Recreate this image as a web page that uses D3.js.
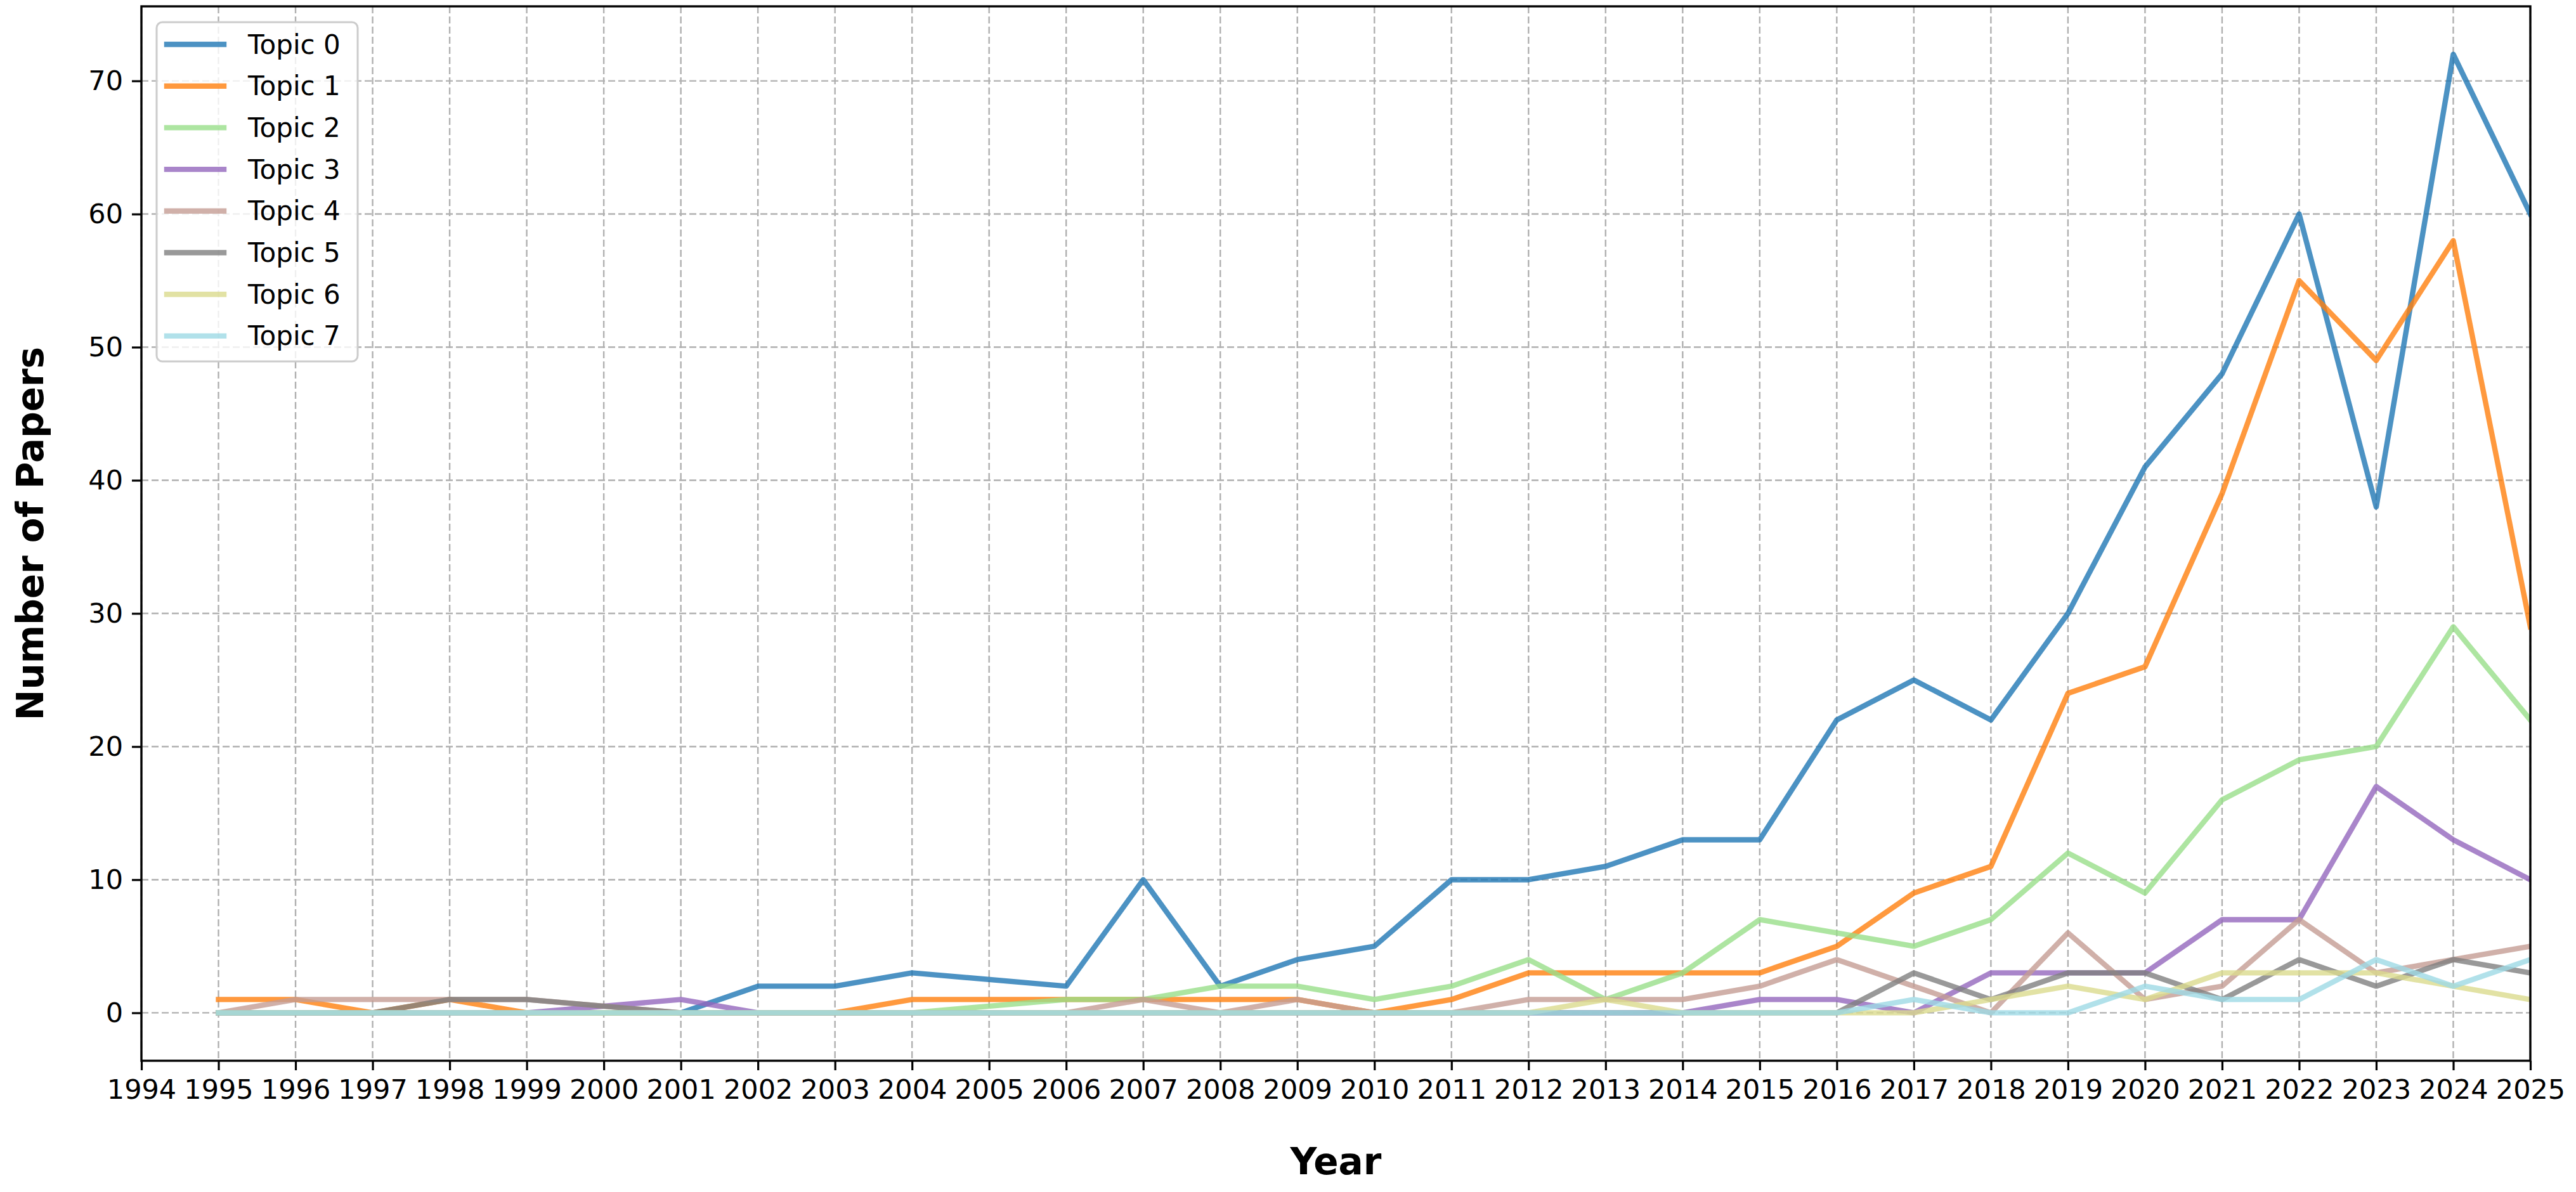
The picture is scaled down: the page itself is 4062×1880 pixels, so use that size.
<!DOCTYPE html>
<html>
<head>
<meta charset="utf-8">
<script src="https://cdn.jsdelivr.net/npm/d3@7/dist/d3.min.js"></script>
<style>
html,body{margin:0;padding:0;background:#fff;}
svg{display:block;font-family:"DejaVu Sans",sans-serif;}
</style>
</head>
<body>
<svg id="chart" width="4062" height="1880"></svg>
<script>
// ---- data (years with no papers, 2000 and 2005, are absent) ----
const years = [1995,1996,1997,1998,1999,2001,2002,2003,2004,2006,2007,2008,2009,2010,2011,2012,2013,2014,2015,2016,2017,2018,2019,2020,2021,2022,2023,2024,2025];
const topic0 = [0,0,0,0,0,0,2,2,3,2,10,2,4,5,10,10,11,13,13,22,25,22,30,41,48,60,38,72,60];
const topic1 = [1,1,0,1,0,0,0,0,1,1,1,1,1,0,1,3,3,3,3,5,9,11,24,26,39,55,49,58,29];
const topic2 = [0,0,0,0,0,0,0,0,0,1,1,2,2,1,2,4,1,3,7,6,5,7,12,9,16,19,20,29,22];
const topic3 = [0,0,0,0,0,1,0,0,0,0,0,0,0,0,0,0,0,0,1,1,0,3,3,3,7,7,17,13,10];
const topic4 = [0,1,1,1,1,0,0,0,0,0,1,0,1,0,0,1,1,1,2,4,2,0,6,1,2,7,3,4,5];
const topic5 = [0,0,0,1,1,0,0,0,0,0,0,0,0,0,0,0,0,0,0,0,3,1,3,3,1,4,2,4,3];
const topic6 = [0,0,0,0,0,0,0,0,0,0,0,0,0,0,0,0,1,0,0,0,0,1,2,1,3,3,3,2,1];
const topic7 = [0,0,0,0,0,0,0,0,0,0,0,0,0,0,0,0,0,0,0,0,1,0,0,2,1,1,4,2,4];
const seriesNames = ["Topic 0","Topic 1","Topic 2","Topic 3","Topic 4","Topic 5","Topic 6","Topic 7"];
const seriesValues = [topic0,topic1,topic2,topic3,topic4,topic5,topic6,topic7];
const seriesColors = ["#1f77b4","#ff7f0e","#98df8a","#9467bd","#c49c94","#7f7f7f","#dbdb8d","#9edae5"];
const xTicks = d3.range(1994, 2026);
const yTicks = [0,10,20,30,40,50,60,70];

// ---- layout ----
const L = 223, R = 3990, T = 10, B = 1673;
const svg = d3.select("#chart");
const x = d3.scaleLinear().domain([1994, 2025]).range([L, R]);
const y = d3.scaleLinear().domain([-3.6, 75.6]).range([B, T]);

svg.append("defs").append("clipPath").attr("id","clip")
  .append("rect").attr("x",L).attr("y",T).attr("width",R-L).attr("height",B-T);

// grid
const grid = svg.append("g");
grid.selectAll("line.v").data(xTicks).join("line")
  .attr("x1", d=>x(d)).attr("x2", d=>x(d)).attr("y1",T).attr("y2",B)
  .attr("stroke","#b0b0b0").attr("stroke-width",2.4).attr("stroke-dasharray","11,5");
grid.selectAll("line.h").data(yTicks).join("line")
  .attr("x1",L).attr("x2",R).attr("y1",d=>y(d)).attr("y2",d=>y(d))
  .attr("stroke","#b0b0b0").attr("stroke-width",2.4).attr("stroke-dasharray","11,5");

// lines
const line = d3.line().x(d=>x(d[0])).y(d=>y(d[1]));
const plot = svg.append("g").attr("clip-path","url(#clip)");
seriesValues.forEach((vals,i)=>{
  plot.append("path")
    .datum(years.map((yr,j)=>[yr, vals[j]]))
    .attr("d", line)
    .attr("fill","none")
    .attr("stroke", seriesColors[i])
    .attr("stroke-opacity",0.8)
    .attr("stroke-width",8.4)
    .attr("stroke-linejoin","round")
    .attr("stroke-linecap","square");
});

// axes
const xAxis = d3.axisBottom(x).tickValues(xTicks).tickFormat(d3.format("d")).tickSize(15).tickPadding(14);
const gx = svg.append("g").attr("transform",`translate(0,${B})`).call(xAxis);
gx.select(".domain").remove();
gx.selectAll(".tick line").attr("stroke","#000").attr("stroke-width",3.2);
gx.selectAll(".tick text").attr("font-size",43).attr("fill","#000").attr("font-family","DejaVu Sans");

const yAxis = d3.axisLeft(y).tickValues(yTicks).tickSize(15).tickPadding(14);
const gy = svg.append("g").attr("transform",`translate(${L},0)`).call(yAxis);
gy.select(".domain").remove();
gy.selectAll(".tick line").attr("stroke","#000").attr("stroke-width",3.2);
gy.selectAll(".tick text").attr("font-size",43).attr("fill","#000").attr("font-family","DejaVu Sans");

// spines
svg.append("rect").attr("x",L).attr("y",T).attr("width",R-L).attr("height",B-T)
  .attr("fill","none").attr("stroke","#000").attr("stroke-width",3.4);

// axis labels
svg.append("text").attr("x",(L+R)/2).attr("y",1852).attr("text-anchor","middle")
  .attr("font-size",58).attr("font-weight","bold").text("Year");
svg.append("text").attr("transform",`translate(68,${(T+B)/2}) rotate(-90)`)
  .attr("text-anchor","middle").attr("font-size",58).attr("font-weight","bold").text("Number of Papers");

// legend
const lg = svg.append("g");
lg.append("rect").attr("x",247).attr("y",35).attr("width",317).attr("height",535).attr("rx",9)
  .attr("fill","#fff").attr("fill-opacity",0.8).attr("stroke","#cccccc").attr("stroke-width",3);
const rowY0 = 70, rowStep = 65.7;
seriesNames.forEach((name,i)=>{
  const yy = rowY0 + i*rowStep;
  lg.append("line").attr("x1",263).attr("x2",353).attr("y1",yy).attr("y2",yy)
    .attr("stroke",seriesColors[i]).attr("stroke-opacity",0.8).attr("stroke-width",8.4).attr("stroke-linecap","square");
  lg.append("text").attr("x",391).attr("y",yy).attr("dominant-baseline","central")
    .attr("font-size",42).attr("fill","#000").text(name);
});
</script>
</body>
</html>
